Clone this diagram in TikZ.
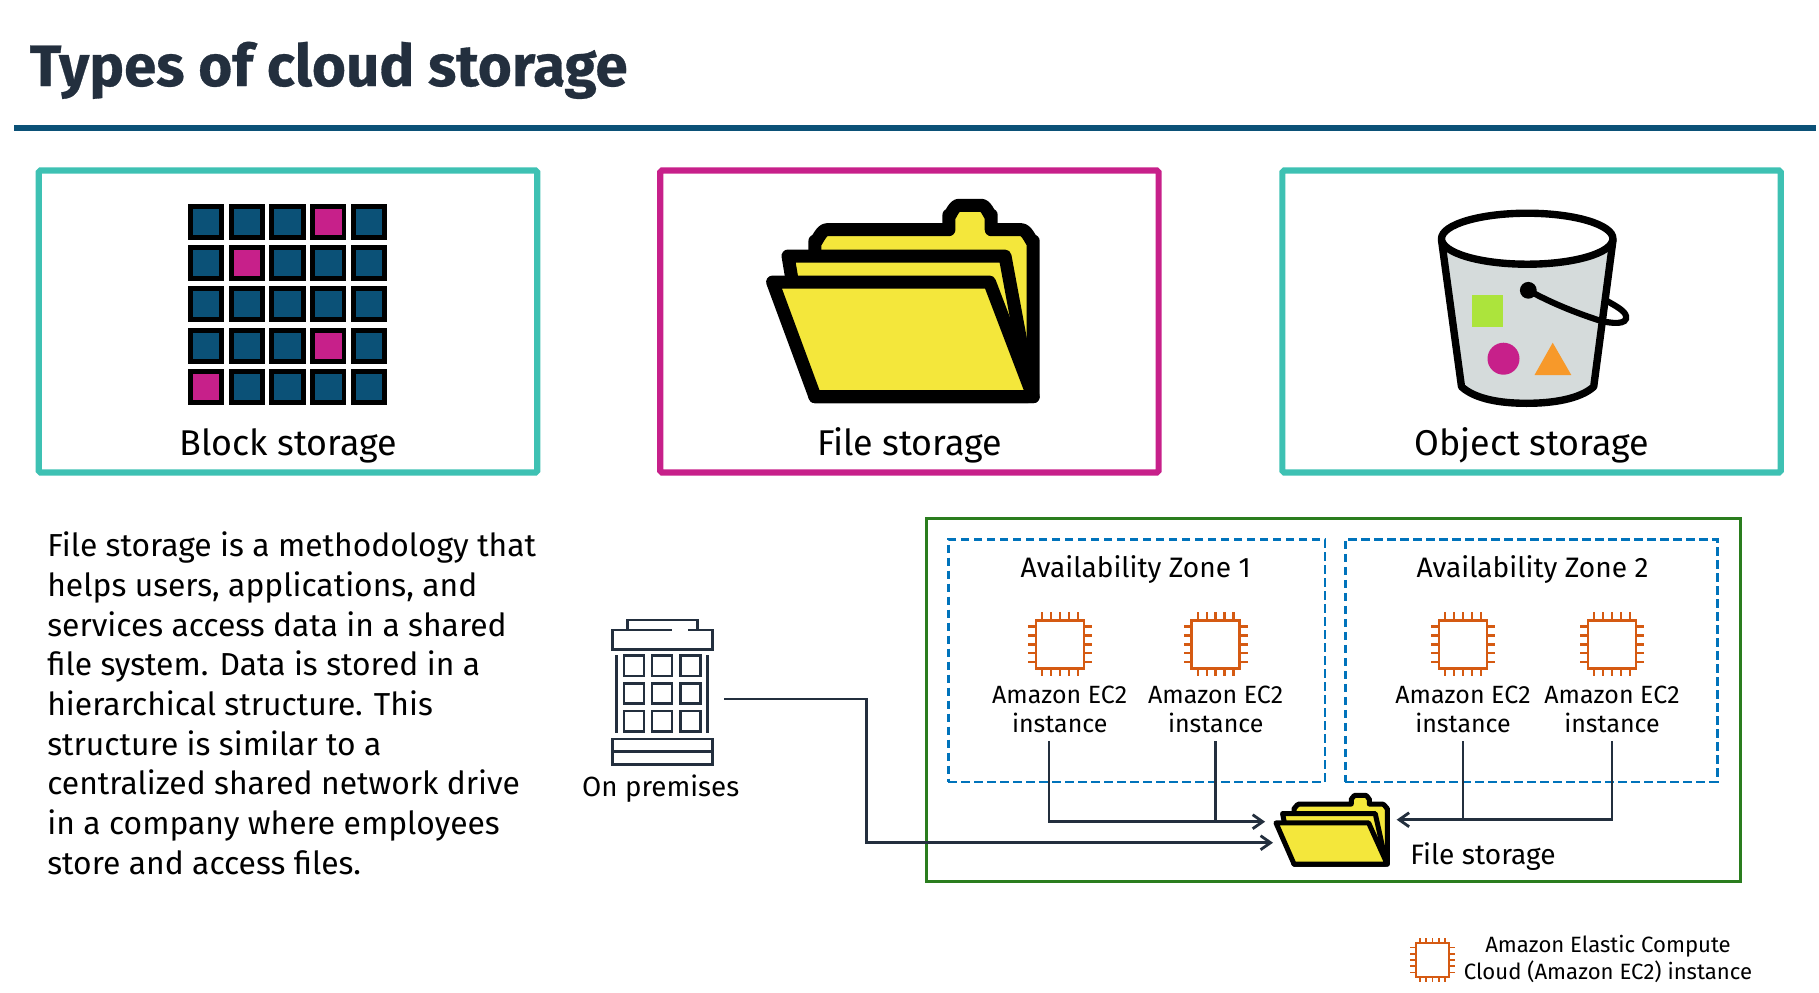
\documentclass[tikz,border=0pt]{standalone}
\usepackage{fontspec}
\setmainfont{Fira Sans}
\usetikzlibrary{arrows.meta,calc}
\definecolor{tealline}{HTML}{3EC1B3}
\definecolor{pinkline}{HTML}{C7208A}
\definecolor{deepblue}{HTML}{0B5177}
\definecolor{inkdark}{HTML}{232F3E}
\definecolor{folderyellow}{HTML}{F4E73B}
\definecolor{bucketgrey}{HTML}{D5DBDB}
\definecolor{chiporange}{HTML}{D55A12}
\definecolor{regiongreen}{HTML}{2A7D1E}
\definecolor{zoneblue}{HTML}{0073BB}
\tikzset{
	cardbox/.style={shape=rectangle,draw,line width=3.5pt,rounded corners=1pt,inner sep=0pt,outer sep=0pt,minimum width=9.97cm,minimum height=6.04cm},
	zonebox/.style={shape=rectangle,draw=zoneblue,line width=1.5pt,dash pattern=on 4.8pt off 2.6pt,inner sep=0pt,outer sep=0pt,minimum height=4.854cm},
	cardlabel/.style={inner sep=0pt,anchor=base,font=\fontsize{20.4}{23}\selectfont},
	smalllabel/.style={inner sep=0pt,anchor=base,font=\fontsize{16}{19}\selectfont},
	ec2label/.style={inner sep=0pt,inner ysep=4.7pt,outer sep=0pt,anchor=south,align=center,font=\fontsize{14.2}{16.7}\selectfont},
	link/.style={draw=inkdark,line width=1.6pt,-{Straight Barb[length=2mm,width=2.8mm]}},
	linkplain/.style={draw=inkdark,line width=1.6pt},
	iconline/.style={draw=inkdark,line width=1.5pt},
	chipline/.style={draw=chiporange,line width=1.45pt},
	chip/.pic={
		\draw[chipline] (-24,-24) rectangle (24,24);
		\foreach \p in {-17.8,-8.9,0,8.9,17.8} {
			\draw[chipline] (\p,-24) -- (\p,-32);
			\draw[chipline] (\p,24) -- (\p,32);
			\draw[chipline] (-24,\p) -- (-32,\p);
			\draw[chipline] (24,\p) -- (32,\p);
		}
	},
	folder/.pic={
		\filldraw[fill=folderyellow,line join=round] (-87.7,-45) -- (-87.7,-60) to[out=-90,in=180] (-76,-71.3) -- (46.3,-71.3) -- (46.3,-86) to[out=-90,in=180] (56,-95.7) -- (79,-95.7) to[out=0,in=-90] (88.6,-86) -- (88.6,-71.3) -- (119,-71.3) to[out=0,in=-90] (130.6,-60) -- (130.6,95.7) -- (-87.6,95.7) -- cycle;
		\filldraw[fill=folderyellow,line join=round] (-111.1,-24.3) -- (-114.6,-45) -- (102.4,-45) -- (124.8,75.7) -- (124.8,95.7) -- (-87.6,95.7) -- cycle;
		\filldraw[fill=folderyellow,line join=round] (-130,-19) -- (86.9,-19) -- (130.6,95.7) -- (-87.6,95.7) -- cycle;
	}
}

\begin{document}
\begin{tikzpicture}[x=0.02cm,y=-0.02cm]
	\useasboundingbox (0,0) rectangle (1819,992);

	\node[inner sep=0pt,anchor=base west,text=inkdark,font=\fontsize{33.2}{36}\selectfont\bfseries\addfontfeature{FakeBold=0.5}] (title) at (29.5,86) {Types of cloud storage};
	\fill[deepblue] (14,124.5) rectangle (1816,131);

	\node[cardbox,draw=tealline] (blockcard) at (288,321.5) {};
	\node[cardbox,draw=pinkline] (filecard) at (909.4,321.5) {};
	\node[cardbox,draw=tealline] (objectcard) at (1531.6,321.5) {};

	\foreach \c in {0,...,4}
		\foreach \r in {0,...,4}
			\filldraw[fill=deepblue,draw=black,line width=2.8pt] (190.5+\c*40.7,206.5+\r*41.2) rectangle +(31.4,31);
	\foreach \c/\r in {3/0,1/1,3/3,0/4}
		\filldraw[fill=pinkline,draw=black,line width=2.8pt] (190.5+\c*40.7,206.5+\r*41.2) rectangle +(31.4,31);

	\pic[line width=7.4pt] at (902.6,301) {folder};

	\filldraw[fill=bucketgrey,draw=black,line width=4.2pt,line join=round] (1441.5,240) -- (1461.5,386.7) .. controls (1475,399) and (1500,403.3) .. (1526.5,403.3) .. controls (1553,403.3) and (1580,399) .. (1593.7,386.7) -- (1613,240) -- cycle;
	\filldraw[fill=white,draw=black,line width=4.2pt] (1527.2,238.7) ellipse (85.7 and 25.5);
	\fill[fill=black] (1528.3,290.3) circle (8.4);
	\draw[black,line width=3.5pt,line cap=round] (1528.3,290.3) .. controls (1555,305) and (1580,314) .. (1598,320) .. controls (1612,324) and (1628,325) .. (1626,316) .. controls (1625,311) and (1616,306) .. (1607,301);
	\fill[fill={rgb,255:red,172;green,228;blue,60}] (1472.1,295) rectangle (1503.1,326.7);
	\fill[fill=pinkline] (1503.5,358.7) circle (16);
	\fill[fill={rgb,255:red,247;green,153;blue,42}] (1552.7,342.7) -- (1571.3,375) -- (1534.5,375) -- cycle;

	\node[cardlabel] (blocklbl) at (288,455) {Block storage};
	\node[cardlabel] (filelbl) at (909.6,455) {File storage};
	\node[cardlabel] (objectlbl) at (1531.7,455) {Object storage};

	\node[inner sep=0pt,anchor=north west,align=left,font=\fontsize{18.1}{22.6}\selectfont] (bodytext) at (47,531.5) {File storage is a methodology that\\helps users, applications, and\\services access data in a shared\\file system. Data is stored in a\\hierarchical structure. This\\structure is similar to a\\centralized shared network drive\\in a company where employees\\store and access files.};

	\draw[iconline] (627.3,630) -- (627.3,620) -- (697.3,620) -- (697.3,630);
	\draw[iconline] (671.7,630) -- (612.3,630) -- (612.3,649.3) -- (712.3,649.3) -- (712.3,630) -- (688.3,630);
	\draw[iconline] (616.7,655) -- (616.7,733.3);
	\draw[iconline] (707.3,655) -- (707.3,733.3);
	\foreach \wx in {624,652,680.3}
		\foreach \wy in {655.7,683.3,711}
			\draw[iconline] (\wx,\wy) rectangle +(20,20.3);
	\draw[iconline] (612.3,739) rectangle (712.3,764.3);
	\draw[iconline] (612.3,751.7) -- (712.3,751.7);
	\node[smalllabel,font=\fontsize{15.8}{19}\selectfont] (onpremlbl) at (660.7,796.7) {On premises};

	\node[shape=rectangle,draw=regiongreen,line width=1.7pt,inner sep=0pt,outer sep=0pt,minimum width=16.28cm,minimum height=7.268cm] (region) at (1333.7,700) {};
	\node[zonebox,minimum width=7.534cm] (zonea) at (1136.65,660.65) {};
	\node[zonebox,minimum width=7.44cm] (zoneb) at (1531.3,660.65) {};
	\node[smalllabel] (zonealbl) at (1135.7,577.7) {Availability Zone 1};
	\node[smalllabel] (zoneblbl) at (1532.5,577.7) {Availability Zone 2};

	\pic at (1060,644.3) {chip};
	\pic at (1215.7,644.3) {chip};
	\pic at (1463,644.3) {chip};
	\pic at (1612,644.3) {chip};
	\node[ec2label] (ec2a) at (1059.7,741) {Amazon EC2\\instance};
	\node[ec2label] (ec2b) at (1215.7,741) {Amazon EC2\\instance};
	\node[ec2label] (ec2c) at (1463,741) {Amazon EC2\\instance};
	\node[ec2label] (ec2d) at (1612,741) {Amazon EC2\\instance};

	\node[shape=rectangle,inner sep=0pt,outer sep=0pt,minimum width=2.34cm,minimum height=1.48cm] (fstore) at (1331.5,829.7) {};
	\pic[line width=2.85pt,xscale=.427,yscale=.36] at (fstore) {folder};
	\node[smalllabel,anchor=base west] (fstorelbl) at (1410,864) {File storage};

	\coordinate (onpremout) at (724.3,699);
	\coordinate (bend) at (866.7,842.7);
	\coordinate (busa) at (1215.7,821.7);
	\coordinate (busb) at (1463,819.7);

	\draw[link] (onpremout) -| (bend) -- (fstore.west |- bend);
	\draw[link,shorten >=4.5pt] ([shift={(-10.7,0)}]ec2a.south) |- (fstore.west |- busa);
	\draw[linkplain] (ec2b.south) -- (busa);
	\draw[link,shorten >=3.8pt] (ec2d.south) |- (fstore.east |- busb);
	\draw[linkplain] (ec2c.south) -- (busb);

	\pic[scale=.7,chipline/.append style={line width=1.05pt}] at (1432.5,960) {chip};
	\node[inner sep=0pt,anchor=north,align=center,font=\fontsize{12.6}{15.4}\selectfont] (legendlbl) at (1608,935) {Amazon Elastic Compute\\Cloud (Amazon EC2) instance};
\end{tikzpicture}
\end{document}
